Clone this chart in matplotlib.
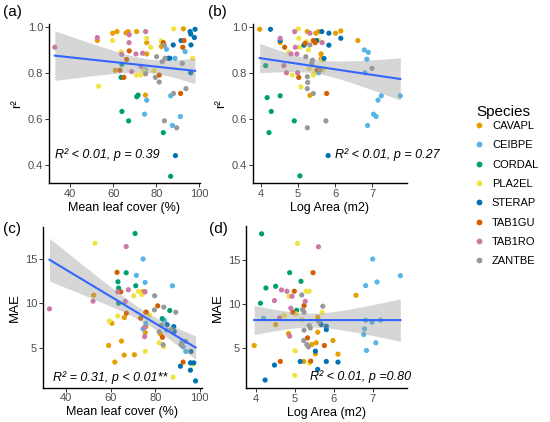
import numpy as np
import matplotlib
matplotlib.use('Agg')
import matplotlib.pyplot as plt
from matplotlib.lines import Line2D

plt.rcParams['font.family'] = ['Liberation Sans', 'DejaVu Sans']

species = ['CAVAPL', 'CEIBPE', 'CORDAL', 'PLA2EL', 'STERAP', 'TAB1GU', 'TAB1RO', 'ZANTBE']
colors = ['#E69F00', '#56B4E9', '#009E73', '#F0E442', '#0072B2', '#D55E00', '#CC79A7', '#999999']

# (a) r2 vs mean leaf cover, points grouped by species in the order above
a_n = [12, 9, 8, 12, 11, 9, 10, 12]
a_x = [52.7, 59.8, 61.8, 66.0, 67.0, 61.0, 70.9, 75.0, 75.6, 75.6, 82.4, 92.6,
       75.6, 74.6, 84.8, 86.7, 87.5, 91.2, 93.4, 88.7, 75.0,
       64.1, 63.7, 64.1, 67.2, 71.0, 71.6, 83.3, 86.7,
       53.3, 59.8, 63.7, 70.9, 72.8, 74.5, 75.6, 77.4, 79.0, 82.3, 88.1, 96.9,
       85.6, 86.3, 88.9, 87.9, 91.5, 95.7, 96.0, 98.0, 97.7, 96.1, 96.0,
       67.5, 66.3, 63.2, 65.0, 81.4, 83.3, 91.3, 92.9, 92.3,
       33.0, 52.7, 67.5, 67.4, 64.0, 68.6, 70.6, 75.1, 73.7, 73.0,
       75.1, 80.2, 81.4, 79.6, 83.8, 82.8, 84.1, 88.0, 93.8, 83.8, 89.5, 92.1]
a_y = [0.942, 0.974, 0.981, 0.975, 0.981, 0.813, 0.981, 0.705, 0.933, 0.884, 0.916, 0.993,
       0.683, 0.622, 0.904, 0.702, 0.573, 0.612, 0.894, 0.865, 0.815,
       0.839, 0.782, 0.634, 0.593, 0.698, 0.705, 0.542, 0.352,
       0.744, 0.942, 0.893, 0.792, 0.792, 0.810, 0.952, 0.913, 0.811, 0.940, 0.993, 0.864,
       0.865, 0.865, 0.442, 0.923, 0.942, 0.981, 0.970, 0.991, 0.955, 0.923, 0.802,
       0.897, 0.860, 0.813, 0.782, 0.792, 0.933, 0.712, 0.942, 0.913,
       0.913, 0.955, 0.967, 0.933, 0.882, 0.807, 0.884, 0.981, 0.887, 0.830,
       0.797, 0.872, 0.762, 0.782, 0.922, 0.850, 0.865, 0.712, 0.733, 0.593, 0.563, 0.843]

# (b) r2 vs log area
b_n = [11, 11, 7, 14, 10, 7, 10, 12]
b_x = [3.97, 4.52, 5.25, 5.32, 5.48, 5.55, 5.62, 5.62, 6.01, 6.15, 6.61,
       5.55, 6.78, 6.89, 6.85, 6.80, 7.24, 7.15, 7.03, 7.10, 6.87, 7.75,
       4.13, 4.17, 4.28, 4.22, 4.52, 4.90, 5.05,
       4.75, 4.85, 5.01, 5.02, 5.05, 5.08, 5.23, 5.28, 5.30, 5.41, 5.56, 5.66, 5.68, 5.48,
       4.26, 4.52, 5.16, 5.50, 5.64, 5.70, 5.83, 5.83, 6.15, 5.81,
       4.64, 5.02, 5.19, 5.41, 5.46, 5.52, 5.77,
       4.52, 4.62, 4.81, 4.69, 4.91, 4.93, 4.97, 4.99, 5.32, 5.65,
       5.32, 5.21, 5.25, 5.26, 5.25, 5.25, 5.37, 5.39, 5.41, 5.59, 5.75, 6.99]
b_y = [0.991, 0.933, 0.981, 0.704, 0.974, 0.981, 0.884, 0.864, 0.974, 0.984, 0.942,
       0.802, 0.901, 0.891, 0.861, 0.802, 0.702, 0.683, 0.622, 0.612, 0.573, 0.702,
       0.833, 0.694, 0.634, 0.542, 0.702, 0.593, 0.354,
       0.891, 0.792, 0.993, 0.952, 0.913, 0.741, 0.937, 0.901, 0.821, 0.792, 0.942, 0.858, 0.814, 0.810,
       0.991, 0.942, 0.922, 0.942, 0.981, 0.864, 0.974, 0.922, 0.952, 0.442,
       0.913, 0.782, 0.930, 0.942, 0.933, 0.814, 0.712,
       0.952, 0.833, 0.884, 0.802, 0.981, 0.913, 0.884, 0.802, 0.974, 0.933,
       0.923, 0.872, 0.785, 0.760, 0.733, 0.563, 0.843, 0.857, 0.712, 0.814, 0.593, 0.821]

# (c) MAE vs mean leaf cover
c_n = [14, 11, 8, 12, 9, 8, 9, 10]
c_x = [52.3, 60.5, 59.0, 61.8, 64.8, 66.1, 66.0, 70.6, 74.3, 75.1, 75.7, 75.5, 75.8, 82.3,
       71.5, 74.5, 75.4, 74.5, 75.7, 84.1, 87.7, 85.0, 92.0, 92.5, 93.7,
       63.2, 63.5, 63.5, 66.9, 70.9, 71.2, 83.1, 86.5,
       52.9, 59.3, 63.1, 70.3, 72.5, 75.5, 77.4, 81.7, 83.8, 88.0, 96.7, 74.0,
       85.3, 88.3, 88.5, 91.3, 95.8, 95.8, 97.3, 98.1, 96.1,
       62.8, 64.5, 67.0, 73.4, 75.9, 81.1, 83.2, 92.5,
       32.4, 52.0, 63.1, 66.5, 66.9, 67.9, 75.4, 75.2, 75.2,
       79.7, 79.6, 81.7, 82.8, 83.8, 83.5, 89.2, 87.1, 91.6, 93.6]
c_y = [10.92, 7.75, 5.26, 3.38, 5.75, 8.40, 4.17, 4.21, 11.30, 11.30, 9.00, 6.70, 7.38, 6.55,
       13.15, 15.00, 12.36, 7.11, 7.75, 8.09, 11.98, 7.00, 5.68, 5.11, 4.58,
       12.43, 11.72, 10.02, 13.45, 17.87, 11.98, 8.28, 9.19,
       16.77, 8.02, 8.58, 10.85, 11.34, 4.58, 8.70, 5.57, 5.11, 1.68, 3.15, 11.00,
       7.60, 7.38, 6.81, 2.92, 2.47, 3.30, 3.30, 1.26, 4.58,
       13.49, 11.30, 8.89, 8.32, 9.00, 9.72, 6.17, 3.38,
       9.38, 10.25, 11.30, 10.21, 16.40, 11.53, 11.30, 7.30, 6.25,
       10.85, 9.26, 6.81, 7.53, 9.57, 5.34, 9.00, 7.00, 5.34, 5.72]

# (d) MAE vs log area
d_n = [12, 12, 7, 12, 10, 8, 9, 11]
d_x = [3.96, 4.51, 4.84, 5.23, 5.44, 5.55, 5.53, 5.59, 5.59, 5.98, 6.11, 6.57,
       4.20, 6.82, 6.77, 6.79, 6.82, 6.84, 7.00, 6.98, 7.11, 7.08, 7.20, 7.71,
       4.15, 4.12, 4.26, 4.51, 4.87, 5.05, 5.16,
       4.73, 4.85, 5.00, 5.01, 5.07, 5.03, 5.29, 5.37, 5.18, 5.38, 5.65, 5.70,
       4.24, 4.48, 5.14, 5.53, 5.59, 5.68, 5.81, 5.81, 5.81, 6.11,
       4.63, 4.95, 4.99, 5.24, 5.33, 5.41, 5.47, 5.76,
       4.48, 4.66, 4.80, 4.61, 4.87, 4.93, 4.90, 5.27, 5.61,
       5.18, 5.20, 5.24, 5.24, 5.23, 5.31, 5.35, 5.37, 5.40, 5.72, 5.62]
d_y = [5.26, 7.64, 6.62, 3.45, 5.38, 5.57, 4.32, 6.77, 8.47, 5.83, 4.28, 10.96,
       8.36, 12.06, 6.51, 7.15, 8.13, 4.70, 15.08, 7.91, 12.47, 5.57, 8.13, 13.19,
       17.94, 10.06, 11.79, 11.98, 13.53, 9.26, 12.55,
       8.66, 10.85, 1.87, 4.66, 16.85, 8.85, 11.42, 11.42, 8.21, 3.23, 7.83, 9.04,
       1.34, 3.04, 3.45, 4.62, 2.55, 7.64, 7.45, 7.07, 3.45, 3.38,
       3.45, 9.04, 11.42, 9.79, 6.13, 3.49, 13.53, 5.26,
       10.36, 11.57, 11.42, 8.40, 6.32, 10.85, 9.49, 10.28, 16.47,
       11.00, 9.34, 9.04, 7.00, 5.83, 5.38, 5.11, 7.53, 7.26, 9.72, 8.00]

notes = ['R² < 0.01, p = 0.39', 'R² < 0.01, p = 0.27',
         'R² = 0.31, p < 0.01**', 'R² < 0.01, p =0.80']


def lmband(x, y, xs, t=1.99):
    # linear fit with 95% confidence band, like geom_smooth(method='lm')
    x = np.asarray(x); y = np.asarray(y)
    b, a = np.polyfit(x, y, 1)
    res = y - (a + b * x)
    n = len(x)
    s = np.sqrt(np.sum(res ** 2) / (n - 2))
    sxx = np.sum((x - x.mean()) ** 2)
    fit = a + b * xs
    se = s * np.sqrt(1.0 / n + (xs - x.mean()) ** 2 / sxx)
    return fit, fit - t * se, fit + t * se


def panel(ax, x, y, n, xlim, ylim, xticks, yticks, yfmt, xlabel, ylabel, note, note_xy):
    sp = np.repeat(np.arange(len(species)), n)
    x = np.asarray(x); y = np.asarray(y)
    ax.scatter(x, y, c=[colors[i] for i in sp], s=14, linewidths=0, zorder=2)
    xs = np.linspace(x.min(), x.max(), 80)
    fit, lo, hi = lmband(x, y, xs)
    ax.fill_between(xs, lo, hi, color='#999999', alpha=0.4, linewidth=0, zorder=3)
    ax.plot(xs, fit, color='#3366FF', lw=1.5, zorder=4)
    ax.set_xlim(xlim); ax.set_ylim(ylim)
    ax.set_xticks(xticks); ax.set_yticks(yticks)
    ax.set_yticklabels([yfmt % v for v in yticks])
    for s in ['top', 'right']:
        ax.spines[s].set_visible(False)
    for s in ['left', 'bottom']:
        ax.spines[s].set_linewidth(1.0)
    ax.tick_params(length=2.8, width=0.7, color='#333333', labelsize=8,
                   labelcolor='#4D4D4D', pad=1.5)
    ax.set_xlabel(xlabel, fontsize=9, labelpad=2)
    ax.set_ylabel(ylabel, fontsize=9.5, labelpad=3)
    ax.text(note_xy[0], note_xy[1], note, fontsize=9, style='italic', zorder=5)


fig = plt.figure(figsize=(5.5, 4.22), dpi=100)
W, H = 550.0, 422.0

axa = fig.add_axes([49 / W, 1 - 183 / H, 151 / W, 159 / H])
axb = fig.add_axes([253 / W, 1 - 183 / H, 154 / W, 159 / H])
axc = fig.add_axes([43 / W, 1 - 387.5 / H, 159 / W, 160.5 / H])
axd = fig.add_axes([246 / W, 1 - 388 / H, 161 / W, 161.5 / H])

panel(axa, a_x, a_y, a_n, (30.3, 100.3), (0.323, 1.014), [40, 60, 80, 100],
      [0.4, 0.6, 0.8, 1.0], '%.1f', 'Mean leaf cover (%)', 'r²', notes[0], (33.0, 0.43))
panel(axb, b_x, b_y, b_n, (3.79, 7.93), (0.323, 1.014), [4, 5, 6, 7],
      [0.4, 0.6, 0.8, 1.0], '%.1f', 'Log Area (m2)', 'r²', notes[1], (6.0, 0.43))
panel(axc, c_x, c_y, c_n, (29.5, 101), (0.52, 18.6), [40, 60, 80, 100],
      [5, 10, 15], '%d', 'Mean leaf cover (%)', 'MAE', notes[2], (34.0, 1.3))
panel(axd, d_x, d_y, d_n, (3.75, 7.88), (0.44, 18.77), [4, 5, 6, 7],
      [5, 10, 15], '%d', 'Log Area (m2)', 'MAE', notes[3], (5.4, 1.4))

for tag, px, py in [('(a)', 3, 12), ('(b)', 208, 12), ('(c)', 3, 229), ('(d)', 209, 229)]:
    fig.text(px / W, 1 - py / H, tag, fontsize=11, va='center', ha='left')

# legend: title as separate text so the gap to the first key matches
fig.text(476 / W, 1 - 112 / H, 'Species', fontsize=11, va='center', ha='left')
handles = [Line2D([], [], ls='', marker='o', ms=4.2, mec='none', mfc=c) for c in colors]
fig.legend(handles, species, loc='upper left',
           bbox_to_anchor=(463 / W, 1 - 111 / H), frameon=False, fontsize=8,
           labelspacing=0.84, handletextpad=0.7, handlelength=1.0)

fig.savefig('out.png', dpi=100)
